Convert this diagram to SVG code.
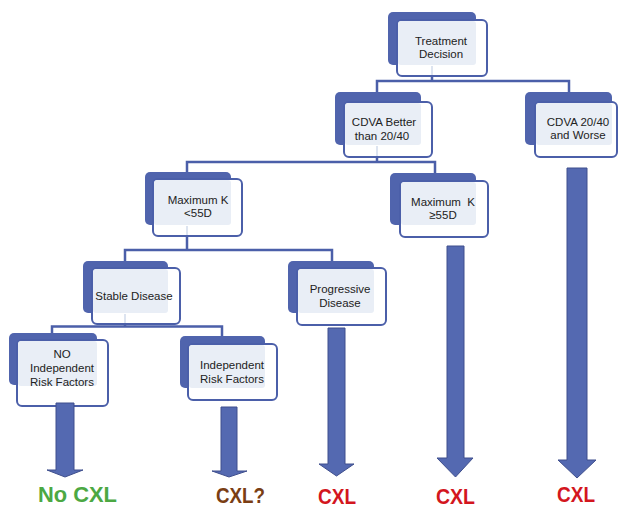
<svg xmlns="http://www.w3.org/2000/svg" width="618" height="509" viewBox="0 0 618 509">
<style>
.back{fill:#5064ad;}
.front{fill:#ffffff;stroke:#4b5fa9;stroke-width:2;}
.light{fill:#e9eef6;}
.t{font-family:"Liberation Sans",Arial,sans-serif;font-size:11.5px;fill:#222;text-anchor:middle;}
.conn{fill:none;stroke:#4b5fa9;stroke-width:2.5;}
.stub{fill:none;stroke:#dde4f0;stroke-width:2;}
.arr{fill:#5469b1;stroke:#3f4f8d;stroke-width:1;}
.out{font-family:"Liberation Sans",Arial,sans-serif;font-weight:bold;font-size:22px;text-anchor:start;}
</style>
<rect width="618" height="509" fill="#ffffff"/>
<g id="n-treatment">
<rect class="back" x="388" y="12" width="88" height="53" rx="5"/>
<rect class="front" x="397" y="20" width="90" height="56" rx="5"/>
<rect class="light" x="398" y="21" width="78" height="44" rx="3"/>
<text class="t" x="441" y="45">Treatment</text>
<text class="t" x="441" y="58">Decision</text>
</g>
<g id="n-cdva-better">
<rect class="back" x="335" y="92" width="86" height="53" rx="5"/>
<rect class="front" x="344" y="102" width="88" height="55" rx="5"/>
<rect class="light" x="345" y="103" width="76" height="42" rx="3"/>
<text class="t" x="384" y="126">CDVA Better</text>
<text class="t" x="382" y="140">than 20/40</text>
</g>
<g id="n-cdva-worse">
<rect class="back" x="525" y="92" width="87" height="53" rx="5"/>
<rect class="front" x="535" y="102" width="82" height="55" rx="5"/>
<rect class="light" x="536" y="103" width="76" height="42" rx="3"/>
<text class="t" x="578" y="126">CDVA 20/40</text>
<text class="t" x="578" y="139">and Worse</text>
</g>
<g id="n-maxk-lt">
<rect class="back" x="145" y="172" width="86" height="53" rx="5"/>
<rect class="front" x="153" y="179" width="89" height="57" rx="5"/>
<rect class="light" x="154" y="180" width="77" height="45" rx="3"/>
<text class="t" x="198" y="204">Maximum K</text>
<text class="t" x="198" y="217">&lt;55D</text>
</g>
<g id="n-maxk-ge">
<rect class="back" x="390" y="173" width="86" height="52" rx="5"/>
<rect class="front" x="400" y="181" width="88" height="56" rx="5"/>
<rect class="light" x="401" y="182" width="75" height="43" rx="3"/>
<text class="t" x="443" y="206" xml:space="preserve">Maximum  K</text>
<text class="t" x="443" y="219">≥55D</text>
</g>
<g id="n-stable">
<rect class="back" x="83" y="261" width="85" height="52" rx="5"/>
<rect class="front" x="92" y="268" width="88" height="56" rx="5"/>
<rect class="light" x="93" y="269" width="75" height="44" rx="3"/>
<text class="t" x="134" y="300">Stable Disease</text>
</g>
<g id="n-progressive">
<rect class="back" x="288" y="261" width="86" height="52" rx="5"/>
<rect class="front" x="297" y="268" width="89" height="57" rx="5"/>
<rect class="light" x="298" y="269" width="76" height="44" rx="3"/>
<text class="t" x="340" y="293">Progressive</text>
<text class="t" x="340" y="307">Disease</text>
</g>
<g id="n-no-indep">
<rect class="back" x="9" y="333" width="88" height="52" rx="5"/>
<rect class="front" x="17" y="340" width="91" height="66" rx="5"/>
<rect class="light" x="18" y="341" width="79" height="45" rx="3"/>
<text class="t" x="62" y="358">NO</text>
<text class="t" x="62" y="372">Independent</text>
<text class="t" x="62" y="386">Risk Factors</text>
</g>
<g id="n-indep">
<rect class="back" x="180" y="336" width="85" height="52" rx="5"/>
<rect class="front" x="188" y="344" width="89" height="56" rx="5"/>
<rect class="light" x="189" y="345" width="76" height="43" rx="3"/>
<text class="t" x="232" y="369">Independent</text>
<text class="t" x="232" y="383">Risk Factors</text>
</g>
<g id="connectors">
<path class="stub" d="M432,66 V75 M377,146 V156 M187,226 V235 M125,314 V323"/>
<path class="conn" d="M432,76 V81 M377,92 V81 H569 V92"/>
<path class="conn" d="M377,157 V162 M187,172 V162 H435 V173"/>
<path class="conn" d="M187,236 V250 M125,261 V250 H332 V261"/>
<path class="conn" d="M125,324 V326.5 M52,333 V326.5 H222 V336"/>
<polygon class="arr" points="56,403 74,403 74,470 83,470 65,477 47,470 56,470"/>
<polygon class="arr" points="221,407 237,407 237,471 247,471 229,477 212,471 221,471"/>
<polygon class="arr" points="328,328 345,328 345,464 354,464 336.5,476 319,464 328,464"/>
<polygon class="arr" points="447,246 464,246 464,458 473,458 455.5,477 437,458 447,458"/>
<polygon class="arr" points="567,168 587,168 587,460 596,460 577,478 558,460 567,460"/>
</g>
<g id="o-no-cxl"><text class="out" x="38" y="502" fill="#4ca843" textLength="79" lengthAdjust="spacingAndGlyphs">No CXL</text></g>
<g id="o-cxl-q"><text class="out" x="216" y="503" fill="#7a3e14" textLength="49" lengthAdjust="spacingAndGlyphs">CXL?</text></g>
<g id="o-cxl-1"><text class="out" x="318" y="504" fill="#d3161e" textLength="38" lengthAdjust="spacingAndGlyphs">CXL</text></g>
<g id="o-cxl-2"><text class="out" x="436" y="504" fill="#d3161e" textLength="39" lengthAdjust="spacingAndGlyphs">CXL</text></g>
<g id="o-cxl-3"><text class="out" x="557" y="502" fill="#d3161e" textLength="38" lengthAdjust="spacingAndGlyphs">CXL</text></g>
</svg>
